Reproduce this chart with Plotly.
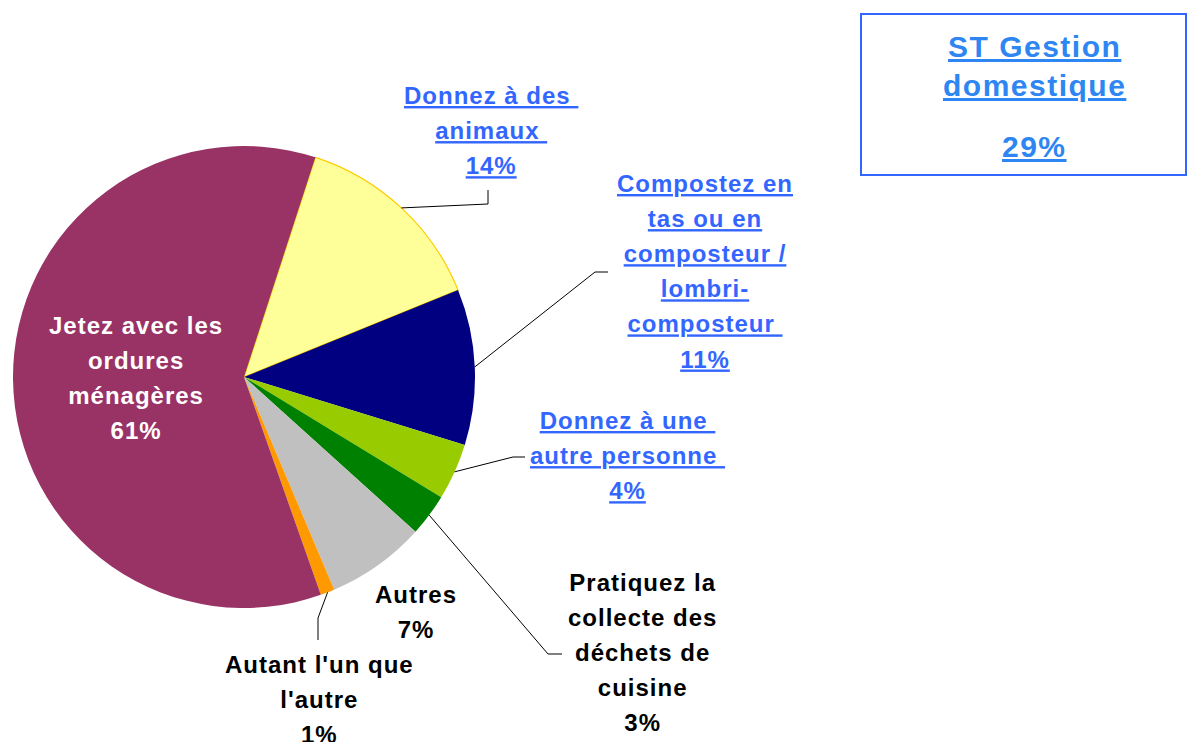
import math
import plotly.graph_objects as go

W, H = 1196, 742
OFF = 8  # page body margin compensation

# ---- data ----
categories = [
    "Donnez à des animaux",
    "Compostez en tas ou en composteur / lombri-composteur",
    "Donnez à une autre personne",
    "Pratiquez la collecte des déchets de cuisine",
    "Autres",
    "Autant l'un que l'autre",
    "Jetez avec les ordures ménagères",
]
values = [14, 11, 4, 3, 7, 1, 61]
label_lines = [
    ["Donnez à des ", "animaux ", "14%"],
    ["Compostez en", "tas ou en", "composteur /", "lombri-", "composteur ", "11%"],
    ["Donnez à une ", "autre personne ", "4%"],
    ["Pratiquez la", "collecte des", "déchets de", "cuisine", "3%"],
    ["Autres", "7%"],
    ["Autant l'un que", "l'autre", "1%"],
    ["Jetez avec les", "ordures", "ménagères", "61%"],
]
colors = ["#FFFF99", "#000080", "#99CC00", "#008000", "#C0C0C0", "#FF9900", "#993366"]
summary_title = ["ST Gestion", "domestique"]
summary_value = "29%"

# ---- layout constants ----
CX, CY, R = 244, 377, 231
ROT = 18
BLUE = "#3366FF"
BOXBLUE = "#2E86F2"
FONT = "Liberation Sans, Arial, sans-serif"


def px(x, y):
    return (x - OFF) / W, 1 - (y - OFF) / H


fig = go.Figure()
dx0, dy1 = px(CX - R, CY - R)
dx1, dy0 = px(CX + R, CY + R)
fig.add_trace(go.Pie(
    labels=categories, values=values, sort=False, direction="clockwise",
    rotation=ROT, textinfo="none", hoverinfo="label+percent",
    marker=dict(colors=colors,
                line=dict(color=["#FFCC00"] + ["rgba(0,0,0,0)"] * 6,
                          width=[1.2, 0, 0, 0, 0, 0, 0])),
    domain=dict(x=[dx0, dx1], y=[dy0, dy1]),
    showlegend=False,
))

# label placement (pixel centres of text blocks) and styles
label_pos = [(491, 131), (705, 271), (627, 455.5), (642, 652), (416, 611.5), (319, 699), (136, 378)]
label_color = [BLUE, BLUE, BLUE, "black", "black", "black", "white"]
label_ul = [True, True, True, False, False, False, False]

annotations = []
for lines, (x, y), col, ul in zip(label_lines, label_pos, label_color, label_ul):
    style = "font-size:24px;letter-spacing:1px"
    if ul:
        style += ";text-decoration:underline"
    txt = "<br>".join(f'<span style="{style}"><b>{l}</b></span>' for l in lines)
    ax, ay = px(x, y)
    annotations.append(dict(x=ax, y=ay, xref="paper", yref="paper", text=txt,
                            showarrow=False, xanchor="center", yanchor="middle",
                            font=dict(family=FONT, size=27, color=col), align="center"))

# summary box
st = "font-size:30px;letter-spacing:1.5px;text-decoration:underline"
bx, by = px(1034, 66.5)
annotations.append(dict(x=bx, y=by, xref="paper", yref="paper",
                        text="<br>".join(f'<span style="{st}"><b>{l}</b></span>' for l in summary_title),
                        showarrow=False, xanchor="center", yanchor="middle",
                        font=dict(family=FONT, size=30, color=BOXBLUE)))
bx, by = px(1034, 146)
annotations.append(dict(x=bx, y=by, xref="paper", yref="paper",
                        text=f'<span style="{st}"><b>{summary_value}</b></span>',
                        showarrow=False, xanchor="center", yanchor="middle",
                        font=dict(family=FONT, size=30, color=BOXBLUE)))

shapes = []
x0, y0 = px(861, 14)
x1, y1 = px(1186, 175)
shapes.append(dict(type="rect", xref="paper", yref="paper", x0=x0, y0=y1, x1=x1, y1=y0,
                   line=dict(color=BLUE, width=2), fillcolor="rgba(0,0,0,0)"))

# leader lines: start at slice mid-angle on pie edge, then elbow points near labels
total = sum(values)
cum = 0
mids = []
for v in values:
    mids.append(ROT + (cum + v / 2) / total * 360)
    cum += v
elbows = {
    0: [(488, 204), (488, 190)],
    1: [(595, 272), (608, 272)],
    2: [(513, 457), (525, 457)],
    3: [(548, 654), (562, 654)],
    5: [(318, 618), (318, 640)],
}
for i, pts in elbows.items():
    a = math.radians(mids[i])
    sx, sy = CX + R * math.sin(a), CY - R * math.cos(a)
    path_pts = [(sx, sy)] + pts
    d = ""
    for k, (x, y) in enumerate(path_pts):
        qx, qy = px(x, y)
        d += ("M" if k == 0 else "L") + f"{qx},{qy} "
    shapes.append(dict(type="path", xref="paper", yref="paper", path=d.strip(),
                       line=dict(color="black", width=1)))

fig.update_layout(width=W, height=H, margin=dict(l=0, r=0, t=0, b=0),
                  paper_bgcolor="white", plot_bgcolor="white",
                  annotations=annotations, shapes=shapes)
fig.write_html("out.html")
